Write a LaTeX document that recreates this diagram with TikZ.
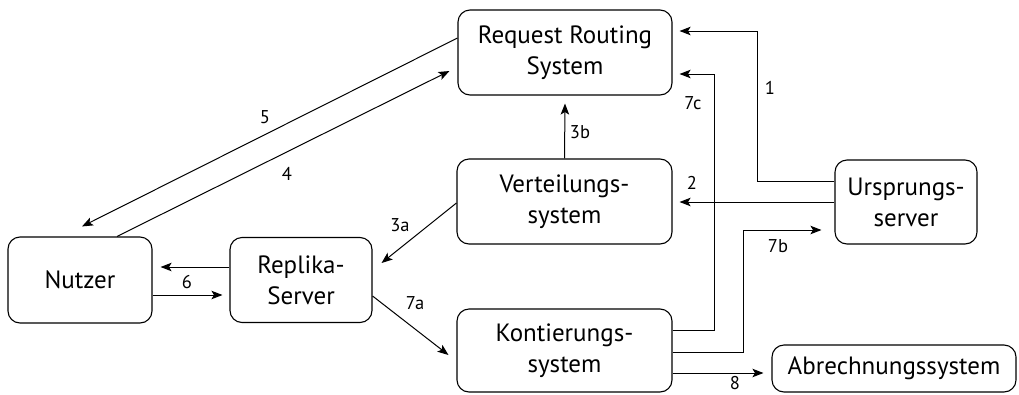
\documentclass[tikz,border=0pt]{standalone}
\usepackage{fontspec}
\setmainfont{PT Sans}
\usetikzlibrary{arrows.meta,calc}
\begin{document}
\begin{tikzpicture}[x=1pt,y=-1pt,
  box/.style={draw,line width=1.1pt,rounded corners=12pt,align=center,inner sep=0pt,
    font=\fontsize{25}{31}\selectfont},
  conn/.style={line width=1pt,-{Stealth[length=11pt,width=8.5pt,inset=2.5pt]}},
  lbl/.style={font=\fontsize{18.5}{20}\selectfont,inner sep=0pt}]
\useasboundingbox (0,0) rectangle (1019,394);

% systems
\node[box,minimum width=214,minimum height=85] (rrs)  at (565,52.5)  {Request Routing\\System};
\node[box,minimum width=215,minimum height=85] (vert) at (564.5,201.5) {Verteilungs-\\system};
\node[box,minimum width=142,minimum height=84] (urs)  at (906,202)   {Ursprungs-\\server};
\node[box,minimum width=144,minimum height=86] (nut)  at (80,280)    {Nutzer};
\node[box,minimum width=142,minimum height=85] (rep)  at (301,280)   {Replika-\\Server};
\node[box,minimum width=215,minimum height=83] (kont) at (564.5,350.5) {Kontierungs-\\system};
\node[box,minimum width=244,minimum height=47] (abr)  at (894,368.5) {Abrechnungssystem};

% message flow
\draw[conn] (urs.west |- 0,181) -| (757,31) -- ($(rrs.east |- 0,31)+(7,0)$);
\draw[conn] (urs.west |- 0,202) -- ($(vert.east |- 0,202)+(7,0)$);
\draw[conn] (vert.west |- 0,203) -- ($(rep.east |- 0,263)+(9,0)$);
\draw[conn] (vert.north) -- ($(rrs.south)+(0,8)$);
\draw[conn] ($(nut.north)+(37,0)$) -- ($(rrs.west |- 0,71)+(-8,0)$);
\draw[conn] (rrs.west |- 0,38) -- ($(nut.north)+(2,-10)$);
\draw[conn] (rep.west |- 0,267) -- ($(nut.east |- 0,267)+(8,0)$);
\draw[conn] (nut.east |- 0,295) -- ($(rep.west |- 0,295)+(-7,0)$);
\draw[conn] (rep.east |- 0,296) -- ($(kont.west |- 0,355)+(-8,0)$);
\draw[conn] (kont.east |- 0,352) -| (743,230) -- ($(urs.west |- 0,230)+(-13,0)$);
\draw[conn] (kont.east |- 0,330) -| (714,74) -- ($(rrs.east |- 0,74)+(7,0)$);
\draw[conn] (kont.east |- 0,373) -- ($(abr.west |- 0,373)+(-8,0)$);

% step numbers
\node[lbl] (l1)  at (770,88)  {1};
\node[lbl] (l2)  at (692,183) {2};
\node[lbl] (l3a) at (400,225) {3a};
\node[lbl] (l3b) at (580,132) {3b};
\node[lbl] (l4)  at (287,174) {4};
\node[lbl] (l5)  at (265,117) {5};
\node[lbl] (l6)  at (187,282) {6};
\node[lbl] (l7a) at (415,303) {7a};
\node[lbl] (l7b) at (778,246) {7b};
\node[lbl] (l7c) at (693,103) {7c};
\node[lbl] (l8)  at (735,383) {8};
\end{tikzpicture}
\end{document}
